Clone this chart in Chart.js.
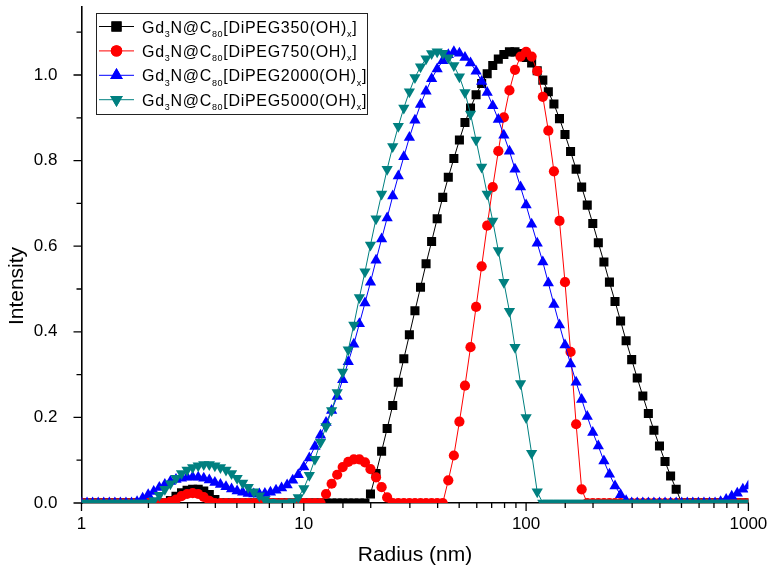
<!DOCTYPE html>
<html>
<head>
<meta charset="utf-8">
<script src="https://cdn.jsdelivr.net/npm/chart.js@4.4.1/dist/chart.umd.min.js"></script>
<style>
html,body{margin:0;padding:0;background:#fff;}
#wrap{width:772px;height:582px;position:relative;}
</style>
</head>
<body>
<div id="wrap"><canvas id="c" width="772" height="582"></canvas></div>
<script>
// Radius grid (nm)
const radius = [
 1.000,1.059,1.122,1.189,1.259,1.334,1.413,1.496,1.585,1.679,
 1.778,1.884,1.995,2.113,2.239,2.371,2.512,2.661,2.818,2.985,
 3.162,3.350,3.548,3.758,3.981,4.217,4.467,4.732,5.012,5.309,
 5.623,5.957,6.310,6.683,7.079,7.499,7.943,8.414,8.913,9.441,
 10.00,10.59,11.22,11.89,12.59,13.34,14.13,14.96,15.85,16.79,
 17.78,18.84,19.95,21.13,22.39,23.71,25.12,26.61,28.18,29.85,
 31.62,33.50,35.48,37.58,39.81,42.17,44.67,47.32,50.12,53.09,
 56.23,59.57,63.10,66.83,70.79,74.99,79.43,84.14,89.13,94.41,
 100.0,105.9,112.2,118.9,125.9,133.4,141.3,149.6,158.5,167.9,
 177.8,188.4,199.5,211.3,223.9,237.1,251.2,266.1,281.8,298.5,
 316.2,335.0,354.8,375.8,398.1,421.7,446.7,473.2,501.2,530.9,
 562.3,595.7,631.0,668.3,707.9,749.9,794.3,841.4,891.3,944.1,
 1000
];

const dipeg350 = [
 0,0,0,0,0,0,0,0,0,0,
 0,0,0,0,0,0,0.006,0.016,0.024,0.03,
 0.032,0.032,0.028,0.02,0.008,0,0,0,0,0,
 0,0,0,0,0,0,0,0,0,0,
 0,0,0,0,0,0,0,0,0,0,
 0,0,0.021,0.069,0.121,0.174,0.228,0.282,0.337,0.393,
 0.449,0.504,0.559,0.611,0.664,0.714,0.761,0.805,0.848,0.889,
 0.923,0.954,0.98,1.003,1.022,1.037,1.048,1.054,1.054,1.05,
 1.041,1.028,1.01,0.988,0.961,0.932,0.898,0.861,0.821,0.78,
 0.738,0.696,0.653,0.608,0.563,0.516,0.471,0.425,0.379,0.335,
 0.292,0.25,0.209,0.17,0.133,0.097,0.063,0.032,0,0,
 0,0,0,0,0,0,0,0,0,0,
 0
];

const dipeg750 = [
 0,0,0,0,0,0,0,0,0,0,
 0,0,0,0,0,0,0.003,0.008,0.016,0.021,
 0.023,0.021,0.014,0.005,0,0,0,0,0,0,
 0,0,0,0,0,0,0,0,0,0,
 0,0,0,0,0.021,0.045,0.066,0.084,0.096,0.102,
 0.102,0.095,0.079,0.06,0.037,0.013,0,0,0,0,
 0,0,0,0,0,0,0.053,0.111,0.19,0.274,
 0.364,0.458,0.553,0.648,0.738,0.822,0.901,0.964,1.012,1.043,
 1.054,1.043,1.009,0.949,0.87,0.775,0.659,0.516,0.353,0.184,
 0.032,0,0,0,0,0,0,0,0,0,
 0,0,0,0,0,0,0,0,0,0,
 0,0,0,0,0,0,0,0,0,0,
 0
];

const dipeg2000 = [
 0,0,0,0,0,0,0,0,0,0,
 0.003,0.011,0.019,0.027,0.036,0.043,0.05,0.055,0.058,0.06,
 0.061,0.06,0.058,0.054,0.048,0.043,0.038,0.033,0.028,0.025,
 0.022,0.021,0.021,0.022,0.025,0.03,0.035,0.042,0.053,0.066,
 0.084,0.105,0.132,0.158,0.188,0.216,0.249,0.288,0.33,0.371,
 0.419,0.467,0.516,0.567,0.617,0.666,0.717,0.764,0.809,0.854,
 0.894,0.931,0.962,0.991,1.014,1.033,1.047,1.054,1.051,1.041,
 1.028,1.009,0.985,0.959,0.928,0.896,0.859,0.822,0.78,0.738,
 0.696,0.651,0.607,0.563,0.514,0.464,0.416,0.369,0.325,0.282,
 0.242,0.202,0.165,0.133,0.098,0.067,0.04,0.019,0.005,0,
 0,0,0,0,0,0,0,0,0,0,
 0,0,0,0,0,0.003,0.008,0.016,0.023,0.032,
 0.04
];

const dipeg5000 = [
 0,0,0,0,0,0,0,0,0,0,
 0,0,0,0.006,0.018,0.032,0.045,0.058,0.069,0.077,
 0.083,0.087,0.09,0.09,0.087,0.083,0.077,0.069,0.058,0.047,
 0.037,0.026,0.017,0.008,0.002,0,0,0,0.003,0.013,
 0.034,0.065,0.102,0.142,0.179,0.216,0.258,0.306,0.358,0.416,
 0.48,0.54,0.603,0.664,0.722,0.78,0.833,0.88,0.923,0.961,
 0.994,1.019,1.038,1.05,1.054,1.051,1.04,1.022,0.996,0.959,
 0.909,0.848,0.785,0.722,0.659,0.59,0.516,0.448,0.364,0.279,
 0.2,0.116,0.026,0,0,0,0,0,0,0,
 0,0,0,0,0,0,0,0,0,0,
 0,0,0,0,0,0,0,0,0,0,
 0,0,0,0,0,0,0,0,0,0,
 0
];

const pegSizes = ['350','750','2000','5000'];
const xTickLabels = [1, 10, 100, 1000];
const yTickLabels = [0, 0.2, 0.4, 0.6, 0.8, 1.0];

const FONT = '"Liberation Sans", Arial, Helvetica, sans-serif';
const seriesData = [dipeg350, dipeg750, dipeg2000, dipeg5000];
const styles = [
  {color:'#000000', pointStyle:'rect', radius:6.4, rotation:0},
  {color:'#FF0000', pointStyle:'circle', radius:5.1, rotation:0},
  {color:'#0000FF', pointStyle:'triangle', radius:6.5, rotation:0},
  {color:'#008080', pointStyle:'triangle', radius:6.5, rotation:180}
];

function toPoints(ys){ return radius.map((r,i)=>({x:r, y:ys[i]})); }
function isDecade(v){ const l = Math.log10(v); return Math.abs(l - Math.round(l)) < 1e-6; }
function isYMajor(v){ return yTickLabels.some(l => Math.abs(l - v) < 1e-6); }

const datasets = seriesData.map((d,i)=>({
  label: 'Gd3N@C80[DiPEG' + pegSizes[i] + '(OH)x]',
  data: toPoints(d),
  borderColor: styles[i].color,
  backgroundColor: styles[i].color,
  borderWidth: 1,
  pointStyle: styles[i].pointStyle,
  pointRadius: styles[i].radius,
  pointRotation: styles[i].rotation,
  pointBackgroundColor: styles[i].color,
  pointBorderColor: styles[i].color,
  pointBorderWidth: 0,
  pointHoverRadius: styles[i].radius,
  tension: 0,
  clip: 0,
  order: 4 - i
}));

const tickMarks = {
  id: 'tickMarks',
  afterDraw(chart){
    const {ctx, chartArea:a} = chart;
    const xs = chart.scales.x, ys = chart.scales.y;
    ctx.save();
    ctx.strokeStyle = '#000';
    ctx.lineWidth = 1.3;
    ctx.beginPath();
    xs.ticks.forEach(t => {
      const p = xs.getPixelForValue(t.value);
      ctx.moveTo(p, a.bottom);
      ctx.lineTo(p, a.bottom + (isDecade(t.value) ? 8 : 5));
    });
    ys.ticks.forEach(t => {
      const k = Math.round(t.value * 10);
      if (Math.abs(t.value * 10 - k) > 1e-6) return;
      const p = ys.getPixelForValue(t.value);
      ctx.moveTo(a.left, p);
      ctx.lineTo(a.left - (isYMajor(t.value) ? 8 : 5), p);
    });
    ctx.stroke();
    // y axis title
    ctx.save();
    ctx.translate(17, 286);
    ctx.rotate(-Math.PI / 2);
    ctx.fillStyle = '#000';
    ctx.font = '21px ' + FONT;
    ctx.textAlign = 'center';
    ctx.textBaseline = 'middle';
    ctx.fillText('Intensity', 0, 0);
    ctx.restore();
    ctx.restore();
  }
};

const customLegend = {
  id: 'customLegend',
  afterDraw(chart){
    const ctx = chart.ctx;
    const box = {l:96, t:13, r:367, b:114};
    ctx.save();
    ctx.fillStyle = '#fff';
    ctx.fillRect(box.l, box.t, box.r - box.l, box.b - box.t);
    ctx.strokeStyle = '#222';
    ctx.lineWidth = 1;
    ctx.strokeRect(box.l + 0.5, box.t + 0.5, box.r - box.l, box.b - box.t);
    pegSizes.forEach((p, i) => {
      const cy = 26.5 + i * 24.4;
      const st = styles[i];
      ctx.strokeStyle = st.color;
      ctx.lineWidth = 1;
      ctx.beginPath();
      ctx.moveTo(99, cy); ctx.lineTo(134, cy);
      ctx.stroke();
      ctx.fillStyle = st.color;
      Chart.helpers.drawPoint(ctx, {pointStyle: st.pointStyle, radius: st.radius * 1.12, rotation: st.rotation, borderWidth: 0}, 116.5, cy);
      ctx.fill();
      const parts = [['Gd',0],['3',1],['N@C',0],['80',1],['[DiPEG' + p + '(OH)',0],['x',1],[']',0]];
      let x = 142;
      ctx.fillStyle = '#000';
      ctx.textBaseline = 'alphabetic';
      ctx.textAlign = 'left';
      parts.forEach(([txt, sub]) => {
        ctx.font = (sub ? '9px ' : '16px ') + FONT;
        try { ctx.letterSpacing = '0.7px'; } catch(e) {}
        const y = cy + 6 + (sub ? 4.5 : 0);
        ctx.fillText(txt, x, y);
        x += ctx.measureText(txt).width;
      });
    });
    ctx.restore();
  }
};

new Chart(document.getElementById('c'), {
  type: 'line',
  data: { datasets },
  options: {
    responsive: false,
    animation: false,
    devicePixelRatio: 1,
    events: [],
    layout: { padding: { left: 0, right: 23.6, top: 5.3, bottom: 0 } },
    plugins: { legend: { display: false }, tooltip: { enabled: false } },
    scales: {
      x: {
        type: 'logarithmic',
        position: 'bottom',
        min: 1, max: 1000,
        grid: { display: false },
        border: { display: true, color: '#000', width: 1.6 },
        ticks: {
          autoSkip: false, maxRotation: 0, color: '#000', padding: 3,
          font: { family: FONT, size: 17 },
          callback: (v) => (isDecade(v) && xTickLabels.includes(Math.round(v))) ? String(Math.round(v)) : ''
        },
        title: { display: true, text: 'Radius (nm)', color: '#000', font: { family: FONT, size: 21 }, padding: { top: 0, bottom: 14 } },
        afterFit(s){ s.height = 79; s.paddingLeft = 0; s.paddingRight = 0; }
      },
      y: {
        min: 0, max: 1.16,
        grid: { display: false },
        border: { display: true, color: '#000', width: 1.6 },
        ticks: {
          stepSize: 0.1, autoSkip: false, color: '#000', padding: 16,
          font: { family: FONT, size: 17 },
          callback: (v) => isYMajor(v) ? v.toFixed(1) : ''
        },
        title: { display: false },
        afterFit(s){ s.width = 81.5; s.paddingTop = 0; s.paddingBottom = 0; }
      }
    }
  },
  plugins: [tickMarks, customLegend]
});
</script>
</body>
</html>
